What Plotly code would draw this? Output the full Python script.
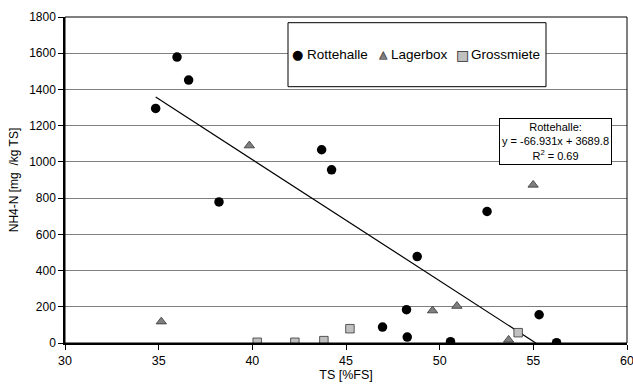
import plotly.graph_objects as go

# Rottehalle
rott_x = [34.84, 35.98, 36.6, 38.22, 43.7, 44.23, 48.8, 52.53, 48.23, 46.95, 48.27, 50.58, 55.31, 56.24]
rott_y = [1295, 1579, 1452, 779, 1067, 956, 477, 726, 184, 88, 33, 7, 156, 2]
# Lagerbox
lager_x = [35.14, 39.84, 54.99, 49.62, 50.92, 53.68]
lager_y = [118, 1090, 873, 179, 204, 17]
# Grossmiete
gross_x = [40.26, 42.27, 43.82, 45.21, 54.19]
gross_y = [4, 4, 13, 79, 57]
# Trendline (Rottehalle)
slope = -66.931
intercept = 3689.8
r2 = 0.69

series_names = ["Rottehalle", "Lagerbox", "Grossmiete"]

FONT = "Liberation Sans, Arial, sans-serif"
W, H = 633, 385
ML, MR, MT, MB = 65, 6, 17, 42
PW, PH = W - ML - MR, H - MT - MB


def px(x):
    return (x - ML) / PW


def py(y):
    return (H - MB - y) / PH


tx = [min(rott_x), max(rott_x)]
ty = [slope * v + intercept for v in tx]

fig = go.Figure()
fig.add_trace(go.Scatter(x=tx, y=ty, mode="lines", line=dict(color="black", width=1.2),
                         showlegend=False, hoverinfo="skip"))
fig.add_trace(go.Scatter(x=rott_x, y=rott_y, mode="markers", name=series_names[0],
                         showlegend=False,
                         marker=dict(symbol="circle", size=9.5, color="black")))
fig.add_trace(go.Scatter(x=lager_x, y=lager_y, mode="markers", name=series_names[1],
                         showlegend=False,
                         marker=dict(symbol="triangle-up", size=9, color="#7f7f7f",
                                     line=dict(color="#333333", width=0.8))))
fig.add_trace(go.Scatter(x=gross_x, y=gross_y, mode="markers", name=series_names[2],
                         showlegend=False,
                         marker=dict(symbol="square", size=8.5, color="#c0c0c0",
                                     line=dict(color="#333333", width=0.8))))

annotations = [
    dict(xref="paper", yref="paper", x=px(555.5), y=py(141.4),
         xanchor="center", yanchor="middle", showarrow=False,
         text=f"Rottehalle:<br>y = {slope}x + {intercept}<br>R<sup>2</sup> = {r2}",
         font=dict(size=11), align="center",
         bgcolor="white", bordercolor="black", borderwidth=1, borderpad=2),
]

# legend (symbol glyph + label) inside a framed box
leg_y = py(54.5)
leg_items = [
    (series_names[0], 297.3, 306.7, [("●", "black", 13)]),
    (series_names[1], 383.0, 391.0, [("▲", "#7f7f7f", 11), ("△", "#333333", 11)]),
    (series_names[2], 462.7, 470.7, [("■", "#c0c0c0", 14), ("□", "#333333", 14)]),
]
for name, sx, tx0, glyphs in leg_items:
    for g, col, sz in glyphs:
        annotations.append(dict(xref="paper", yref="paper", x=px(sx), y=leg_y,
                                xanchor="center", yanchor="middle", showarrow=False,
                                text=g, font=dict(size=sz, color=col,
                                                  family="DejaVu Sans, Liberation Sans")))
    annotations.append(dict(xref="paper", yref="paper", x=px(tx0), y=leg_y,
                            xanchor="left", yanchor="middle", showarrow=False,
                            text=name, font=dict(size=13.5, color="black"),
                            xshift=-2))

fig.update_layout(
    width=W, height=H,
    margin=dict(l=ML, r=MR, t=MT, b=MB, autoexpand=False),
    plot_bgcolor="white", paper_bgcolor="white",
    font=dict(family=FONT, size=12, color="black"),
    showlegend=False,
    xaxis=dict(range=[30, 60], dtick=5, showgrid=False, zeroline=False,
               showline=True, linecolor="black", linewidth=1.5,
               ticks="outside", ticklen=5, tickcolor="black",
               tickfont=dict(size=12.5), ticklabeloverflow="allow", automargin=False,
               title=dict(text="TS [%FS]", font=dict(size=12.5), standoff=3)),
    yaxis=dict(range=[0, 1800], dtick=200, showgrid=True, gridcolor="#808080", gridwidth=1,
               zeroline=False, showline=True, linecolor="black", linewidth=1.5,
               ticks="outside", ticklen=5, tickcolor="black",
               tickfont=dict(size=12), automargin=False,
               title=dict(text="NH4-N [mg  /kg TS]", font=dict(size=12), standoff=8)),
    shapes=[
        dict(type="rect", xref="paper", yref="paper", x0=0, x1=1, y0=0, y1=1,
             line=dict(color="black", width=1), layer="above"),
        dict(type="rect", xref="paper", yref="paper",
             x0=px(288), x1=px(546), y0=py(86.7), y1=py(22.7),
             line=dict(color="black", width=1), fillcolor="white", layer="above"),
    ],
    annotations=annotations,
)

fig.write_html("out.html", config={"displayModeBar": False})
with open("out.html", "r", encoding="utf-8") as f:
    html = f.read()
html = html.replace("<body>", '<body style="margin:0;padding:0">', 1)
with open("out.html", "w", encoding="utf-8") as f:
    f.write(html)
